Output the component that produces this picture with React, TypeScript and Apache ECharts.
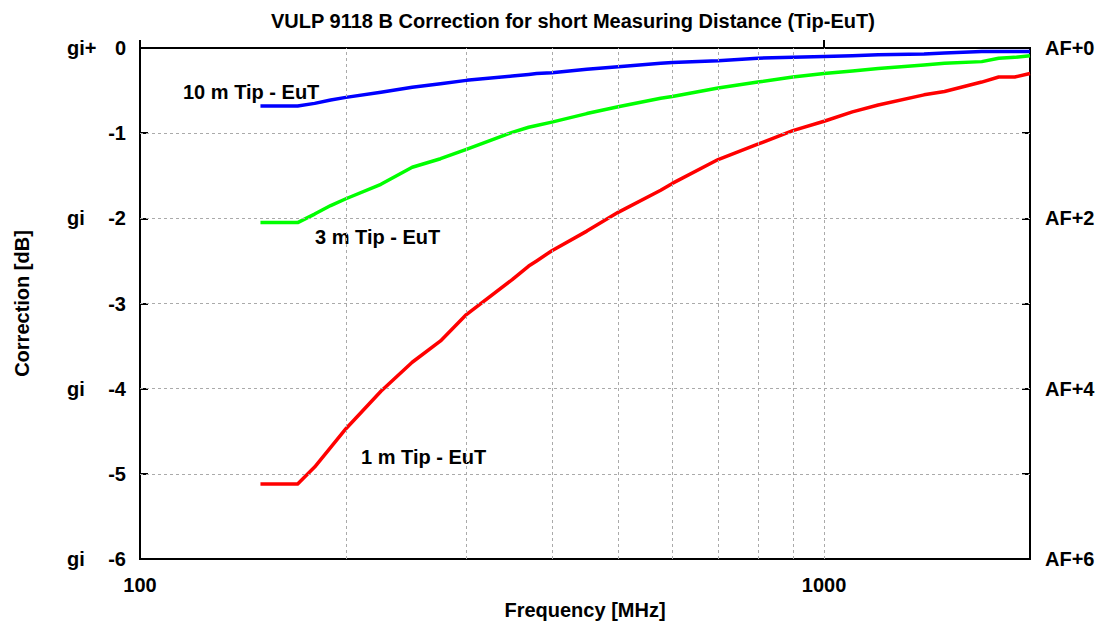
import React, { useEffect, useRef } from "react";
import * as echarts from "echarts";

// Frequency points [MHz]
const freqs = [150, 170, 180, 190, 200, 225, 250, 275, 300, 350, 370, 380, 400, 450, 500, 577, 600, 700, 800, 900, 1000, 1100, 1200, 1400, 1500, 1700, 1800, 1900, 2000];
// Correction [dB]
const tip10m = [-0.68, -0.68, -0.65, -0.61, -0.58, -0.52, -0.46, -0.42, -0.38, -0.33, -0.31, -0.30, -0.29, -0.25, -0.22, -0.18, -0.17, -0.15, -0.12, -0.11, -0.10, -0.09, -0.08, -0.07, -0.06, -0.04, -0.04, -0.04, -0.04];
const tip3m = [-2.05, -2.05, -1.95, -1.85, -1.77, -1.60, -1.40, -1.30, -1.19, -0.99, -0.93, -0.91, -0.87, -0.77, -0.69, -0.59, -0.57, -0.47, -0.40, -0.34, -0.30, -0.27, -0.24, -0.20, -0.18, -0.16, -0.12, -0.11, -0.09];
const tip1m = [-5.12, -5.12, -4.92, -4.69, -4.47, -4.03, -3.69, -3.44, -3.13, -2.72, -2.56, -2.50, -2.38, -2.15, -1.93, -1.67, -1.59, -1.31, -1.13, -0.97, -0.86, -0.75, -0.67, -0.55, -0.51, -0.40, -0.34, -0.34, -0.30];

const seriesNames = ["10 m Tip - EuT", "3 m Tip - EuT", "1 m Tip - EuT"];
const seriesColors = ["#0000ff", "#00ff00", "#ff0000"];

const gridFreqs = [200, 300, 400, 500, 600, 700, 800, 900, 1000];
const gridValues = [-1, -2, -3, -4, -5];
const xTickLabels = [100, 1000];
const tagValues = [0, -2, -4, -6];
const leftTags = ["gi+", "gi", "gi", "gi"];
const rightTags = ["AF+0", "AF+2", "AF+4", "AF+6"];

const FONT = '"Liberation Sans", Arial, Helvetica, sans-serif';
const txt = { fontFamily: FONT, fontWeight: "bold" as const, fontSize: 20, color: "#000" };

export default function App() {
  const ref = useRef<HTMLDivElement>(null);
  useEffect(() => {
    if (!ref.current) return;
    const chart = echarts.init(ref.current, undefined, { renderer: "svg" });
    const mk = (vals: number[]) => freqs.map((f, i) => [f, vals[i]]);
    const tagFmt = (tags: string[]) => (v: number) => {
      const i = tagValues.indexOf(Math.round(v));
      return i >= 0 ? tags[i] : "";
    };
    const option: any = {
      animation: false,
      title: {
        text: "VULP 9118 B Correction for short Measuring Distance (Tip-EuT)",
        left: 271,
        top: 11,
        padding: 0,
        textStyle: { ...txt },
      },
      grid: {
        left: 140,
        right: 71,
        top: 48,
        bottom: 63,
        containLabel: false,
        outerBoundsMode: "none",
        show: true,
        borderColor: "#000",
        borderWidth: 2,
        backgroundColor: "transparent",
      },
      xAxis: {
        type: "log",
        logBase: 10,
        min: 100,
        max: 2000,
        name: "Frequency [MHz]",
        nameLocation: "middle",
        nameGap: 40,
        nameTextStyle: { ...txt },
        axisLine: { show: false },
        axisTick: { show: true, inside: true, length: 8, lineStyle: { color: "#000", width: 2 } },
        axisLabel: {
          ...txt,
          margin: 16,
          showMaxLabel: false,
          formatter: (v: number) => (xTickLabels.includes(Math.round(v)) ? String(Math.round(v)) : ""),
        },
        splitLine: { show: false },
      },
      yAxis: [
        {
          type: "value",
          position: "left",
          min: -6,
          max: 0,
          interval: 1,
          name: "Correction [dB]",
          nameLocation: "middle",
          nameGap: 108,
          nameRotate: 90,
          nameTextStyle: { ...txt },
          axisLine: { show: false },
          axisTick: { show: true, inside: true, length: 8, lineStyle: { color: "#000", width: 2 } },
          axisLabel: { ...txt, margin: 14 },
          splitLine: { show: false },
        },
        {
          type: "value",
          position: "left",
          min: -6,
          max: 0,
          interval: 1,
          axisLine: { show: false },
          axisTick: { show: false },
          axisLabel: { ...txt, margin: 73, align: "left", formatter: tagFmt(leftTags) },
          splitLine: { show: false },
        },
        {
          type: "value",
          position: "right",
          min: -6,
          max: 0,
          interval: 1,
          axisLine: { show: false },
          axisTick: { show: true, inside: true, length: 8, lineStyle: { color: "#000", width: 2 } },
          axisLabel: { ...txt, margin: 15, formatter: tagFmt(rightTags) },
          splitLine: { show: false },
        },
      ],
      series: [
        {
          type: "line",
          name: "grid",
          z: 1,
          data: [],
          silent: true,
          markLine: {
            silent: true,
            symbol: ["none", "none"],
            label: { show: false },
            lineStyle: { type: [3, 3], color: "#aaaaaa", width: 1 },
            data: [
              ...gridFreqs.map((f) => ({ xAxis: f })),
              ...gridValues.map((v) => ({ yAxis: v })),
            ],
          },
        },
        ...[tip10m, tip3m, tip1m].map((vals, i) => ({
          type: "line",
          name: seriesNames[i],
          data: mk(vals),
          showSymbol: false,
          symbol: "none",
          z: 3,
          lineStyle: { color: seriesColors[i], width: 3.5, join: "round" },
          itemStyle: { color: seriesColors[i] },
        })),
      ],
      graphic: [
        { type: "text", x: 183, y: 92, style: { text: seriesNames[0], font: `bold 20px ${FONT}`, fill: "#000", verticalAlign: "middle" } },
        { type: "text", x: 315, y: 237, style: { text: seriesNames[1], font: `bold 20px ${FONT}`, fill: "#000", verticalAlign: "middle" } },
        { type: "text", x: 361, y: 457, style: { text: seriesNames[2], font: `bold 20px ${FONT}`, fill: "#000", verticalAlign: "middle" } },
      ],
    };
    chart.setOption(option);
    return () => chart.dispose();
  }, []);
  return (
    <div
      ref={ref}
      style={{ position: "fixed", left: 0, top: 0, width: 1101, height: 622, background: "#fff" }}
    />
  );
}
